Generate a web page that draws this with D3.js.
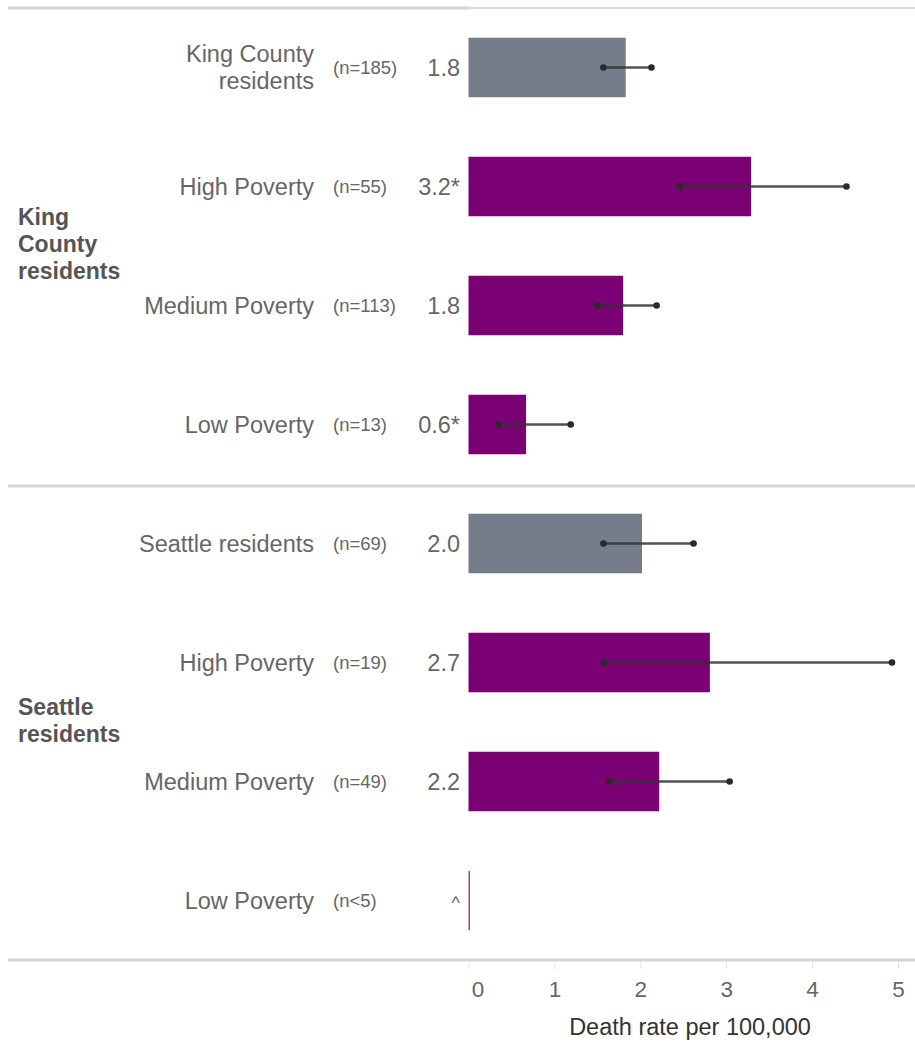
<!DOCTYPE html>
<html>
<head>
<meta charset="utf-8">
<script src="https://cdn.jsdelivr.net/npm/d3@7"></script>
<style>
  body { margin: 0; background: #fff; }
  svg { font-family: "Liberation Sans", Arial, sans-serif; }
</style>
</head>
<body>
<svg id="canvas" width="915" height="1043"></svg>
<script>
// Data
const groups = ['King County residents', 'Seattle residents'];
const rowGroup = [0, 0, 0, 0, 1, 1, 1, 1];
const rowLabels = [['King County', 'residents'], ['High Poverty'], ['Medium Poverty'], ['Low Poverty'],
                   ['Seattle residents'], ['High Poverty'], ['Medium Poverty'], ['Low Poverty']];
const counts = ['(n=185)', '(n=55)', '(n=113)', '(n=13)', '(n=69)', '(n=19)', '(n=49)', '(n<5)'];
const rates = [1.83, 3.29, 1.80, 0.67, 2.02, 2.81, 2.22, 0];
const rateLabels = ['1.8', '3.2*', '1.8', '0.6*', '2.0', '2.7', '2.2', '^'];
const lower = [1.57, 2.46, 1.5, 0.35, 1.57, 1.58, 1.64, null];
const upper = [2.13, 4.4, 2.19, 1.19, 2.62, 4.93, 3.04, null];
const isTotal = [true, false, false, false, true, false, false, false];
const xTicks = [0, 1, 2, 3, 4, 5];

const svg = d3.select('#canvas');
const rows = d3.range(rates.length);

const x = d3.scaleLinear().domain([0, 5]).range([468.5, 898]);
const y = d3.scaleBand().domain(rows).range([8, 960]).paddingInner(0.5).paddingOuter(0.25);

const grey = '#767d8a';
const purple = '#7a0074';
const textCol = '#666';

// separators
svg.append('line').attr('x1', 8).attr('x2', 470).attr('y1', 8).attr('y2', 8)
  .attr('stroke', '#d4d4d4').attr('stroke-width', 3);
svg.append('line').attr('x1', 470).attr('x2', 915).attr('y1', 8).attr('y2', 8)
  .attr('stroke', '#dcdcdc').attr('stroke-width', 2);
[486, 960].forEach(yy => {
  svg.append('line').attr('x1', 8).attr('x2', 915).attr('y1', yy).attr('y2', yy)
    .attr('stroke', '#d4d4d4').attr('stroke-width', 3);
});

// bars
svg.selectAll('rect.bar')
  .data(rows)
  .enter()
  .append('rect')
  .attr('class', 'bar')
  .attr('x', x(0))
  .attr('y', i => y(i))
  .attr('width', i => Math.max(1.5, x(rates[i]) - x(0)))
  .attr('height', y.bandwidth())
  .attr('fill', i => rates[i] === 0 ? '#a0409a' : (isTotal[i] ? grey : purple));

// error bars
const ci = rows.filter(i => lower[i] !== null);
const eb = svg.selectAll('g.ci').data(ci).enter().append('g').attr('class', 'ci');
eb.append('line')
  .attr('x1', i => x(lower[i])).attr('x2', i => x(upper[i]))
  .attr('y1', i => y(i) + y.bandwidth() / 2).attr('y2', i => y(i) + y.bandwidth() / 2)
  .attr('stroke', '#333').attr('stroke-width', 2.5).attr('stroke-opacity', 0.85);
eb.selectAll('circle')
  .data(i => [[lower[i], i], [upper[i], i]])
  .enter()
  .append('circle')
  .attr('cx', d => x(d[0]))
  .attr('cy', d => y(d[1]) + y.bandwidth() / 2)
  .attr('r', 3.3)
  .attr('fill', '#2a2a2a');

// row labels
rows.forEach(i => {
  const cy = y(i) + y.bandwidth() / 2;
  const lines = rowLabels[i];
  const t = svg.append('text')
    .attr('x', 314).attr('y', cy)
    .attr('text-anchor', 'end')
    .attr('fill', textCol)
    .style('font-size', '23.5px');
  lines.forEach((l, k) => {
    t.append('tspan').attr('x', 314)
      .attr('dy', k === 0 ? (8 - (lines.length - 1) * 13.5) : 27)
      .text(l);
  });
  svg.append('text')
    .attr('x', 333).attr('y', cy + 6)
    .attr('fill', textCol)
    .style('font-size', '18.5px')
    .text(counts[i]);
  svg.append('text')
    .attr('x', 460).attr('y', cy + 8)
    .attr('text-anchor', 'end')
    .attr('fill', textCol)
    .style('font-size', rateLabels[i] === '^' ? '18px' : '23.5px')
    .text(rateLabels[i]);
});

// group labels
const groupLines = [['King', 'County', 'residents'], ['Seattle', 'residents']];
groups.forEach((g, gi) => {
  const idx = rows.filter(i => rowGroup[i] === gi);
  const mid = (y(idx[0]) + y(idx[idx.length - 1]) + y.bandwidth()) / 2;
  const lines = groupLines[gi];
  const t = svg.append('text')
    .attr('x', 18).attr('y', mid)
    .attr('fill', '#555')
    .style('font-size', '23px')
    .style('font-weight', 'bold');
  lines.forEach((l, k) => {
    t.append('tspan').attr('x', 18)
      .attr('dy', k === 0 ? (6 - (lines.length - 1) * 13.5) : 27)
      .text(l);
  });
});

// x axis
const axis = svg.append('g').attr('transform', 'translate(0,961)')
  .call(d3.axisBottom(x).tickValues(xTicks).tickSize(8).tickPadding(12).tickFormat(d3.format('d')));
axis.select('.domain').remove();
axis.selectAll('.tick line').attr('stroke', '#e4e4e4');
axis.selectAll('.tick text')
  .attr('fill', textCol)
  .style('font-size', '22.5px')
  .style('font-family', '"Liberation Sans", Arial, sans-serif')
  .attr('dx', d => d === 0 ? 9 : 0);

svg.append('text')
  .attr('x', 690).attr('y', 1035)
  .attr('text-anchor', 'middle')
  .attr('fill', '#333')
  .style('font-size', '23.5px')
  .text('Death rate per 100,000');
</script>
</body>
</html>
